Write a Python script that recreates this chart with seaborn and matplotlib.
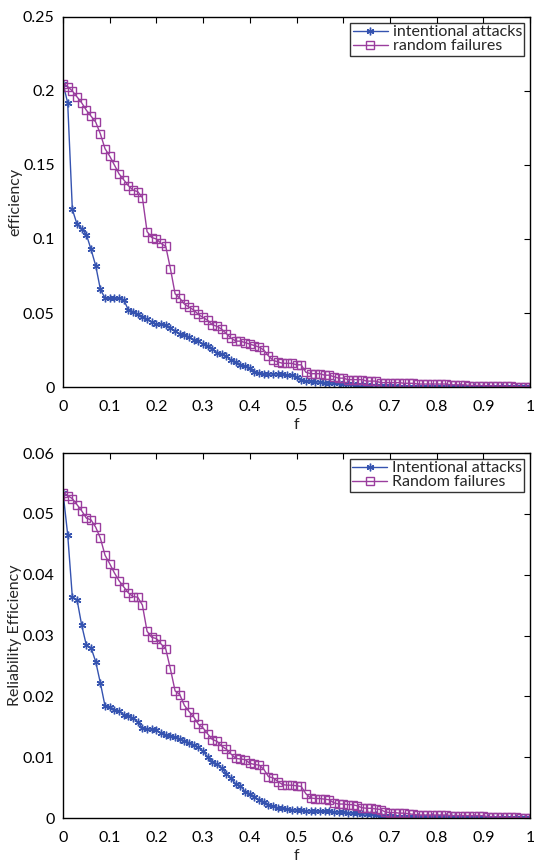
import numpy as np
import pandas as pd
import matplotlib
matplotlib.use("Agg")
import matplotlib.pyplot as plt
import seaborn as sns

# Fraction of removed nodes
f_values = [round(i * 0.01, 2) for i in range(101)]

# Global efficiency under node removal
eff_attack = [
    0.205, 0.192, 0.120, 0.110, 0.107, 0.103, 0.093, 0.082, 0.066, 0.060,
    0.060, 0.060, 0.060, 0.059, 0.052, 0.051, 0.049, 0.047, 0.046, 0.044,
    0.0425, 0.0425, 0.042, 0.040, 0.038, 0.036, 0.035, 0.034, 0.032, 0.031,
    0.029, 0.028, 0.026, 0.023, 0.022, 0.021, 0.018, 0.017, 0.015, 0.014,
    0.013, 0.010, 0.0095, 0.009, 0.009, 0.009, 0.009, 0.0085, 0.008, 0.008,
    0.0065, 0.0045, 0.004, 0.004, 0.0035, 0.0035, 0.003, 0.003, 0.0025, 0.0025,
    0.002, 0.002, 0.002, 0.0015, 0.0015, 0.0015, 0.001, 0.001, 0.001, 0.0008,
    0.0005, 0.0004, 0.0003, 0.0003, 0.0002, 0.0002, 0.0001, 0.0001, 0.0001, 0.0001,
    0.0001, 0.0001, 0.0001, 0.0001, 0.0001, 0.0001, 0.0, 0.0, 0.0, 0.0,
    0.0, 0.0, 0.0, 0.0, 0.0, 0.0, 0.0, 0.0, 0.0, 0.0,
    0.0,
]
eff_random = [
    0.205, 0.203, 0.200, 0.196, 0.192, 0.187, 0.183, 0.179, 0.171, 0.161,
    0.156, 0.150, 0.144, 0.140, 0.136, 0.133, 0.132, 0.128, 0.105, 0.101,
    0.100, 0.097, 0.095, 0.080, 0.063, 0.060, 0.056, 0.054, 0.052, 0.049,
    0.047, 0.045, 0.042, 0.041, 0.039, 0.036, 0.033, 0.031, 0.031, 0.030,
    0.029, 0.028, 0.027, 0.025, 0.021, 0.018, 0.017, 0.016, 0.016, 0.016,
    0.015, 0.015, 0.010, 0.009, 0.009, 0.009, 0.008, 0.008, 0.007, 0.006,
    0.006, 0.005, 0.005, 0.005, 0.005, 0.004, 0.004, 0.004, 0.003, 0.003,
    0.003, 0.003, 0.003, 0.0025, 0.0025, 0.0025, 0.002, 0.002, 0.002, 0.002,
    0.002, 0.002, 0.002, 0.0015, 0.0015, 0.0015, 0.0015, 0.001, 0.001, 0.001,
    0.001, 0.0008, 0.0008, 0.0006, 0.0006, 0.0005, 0.0004, 0.0003, 0.0002, 0.0001,
    0.0,
]

# Reliability efficiency under node removal
rel_attack = [
    0.0535, 0.0466, 0.0363, 0.0359, 0.0317, 0.0284, 0.0280, 0.0257, 0.0222, 0.0184,
    0.0182, 0.0178, 0.0176, 0.0170, 0.0168, 0.0164, 0.0158, 0.0148, 0.0147, 0.0146,
    0.0144, 0.0140, 0.0137, 0.0135, 0.0133, 0.0130, 0.0127, 0.0124, 0.0120, 0.0116,
    0.0110, 0.0100, 0.0092, 0.0088, 0.0082, 0.0073, 0.0065, 0.0056, 0.0053, 0.0043,
    0.0040, 0.0035, 0.0030, 0.0027, 0.0022, 0.0019, 0.0017, 0.0016, 0.0015, 0.0014,
    0.0013, 0.0013, 0.0012, 0.0012, 0.0012, 0.0011, 0.0011, 0.0011, 0.0010, 0.0010,
    0.0010, 0.0009, 0.0008, 0.0008, 0.0007, 0.0007, 0.0006, 0.0005, 0.0004, 0.0003,
    0.0003, 0.0002, 0.0002, 0.0001, 0.0001, 0.0001, 0.0001, 0.0001, 0.0001, 0.0001,
    0.0001, 0.0001, 0.0001, 0.0001, 0.0001, 0.0, 0.0, 0.0, 0.0, 0.0,
    0.0, 0.0, 0.0, 0.0, 0.0, 0.0, 0.0, 0.0, 0.0, 0.0,
    0.0,
]
rel_random = [
    0.0534, 0.0530, 0.0525, 0.0515, 0.0505, 0.0493, 0.0490, 0.0478, 0.0460, 0.0432,
    0.0418, 0.0403, 0.0390, 0.0380, 0.0370, 0.0364, 0.0363, 0.0350, 0.0307, 0.0297,
    0.0295, 0.0286, 0.0278, 0.0245, 0.0209, 0.0203, 0.0185, 0.0175, 0.0166, 0.0154,
    0.0148, 0.0138, 0.0129, 0.0126, 0.0118, 0.0113, 0.0105, 0.0098, 0.0097, 0.0096,
    0.0090, 0.0088, 0.0087, 0.0080, 0.0068, 0.0066, 0.0060, 0.0055, 0.0054, 0.0054,
    0.0053, 0.0052, 0.0040, 0.0033, 0.0032, 0.0032, 0.0031, 0.0030, 0.0025, 0.0023,
    0.0023, 0.0022, 0.0022, 0.0020, 0.0017, 0.0016, 0.0016, 0.0015, 0.0014, 0.0010,
    0.0009, 0.0009, 0.0008, 0.0008, 0.0007, 0.0006, 0.0005, 0.0005, 0.0005, 0.0005,
    0.0005, 0.0005, 0.0005, 0.0004, 0.0004, 0.0004, 0.0004, 0.0004, 0.0004, 0.0004,
    0.0004, 0.0002, 0.0002, 0.0002, 0.0001, 0.0001, 0.0001, 0.0001, 0.0, 0.0,
    0.0,
]

x_ticks = [0, 0.1, 0.2, 0.3, 0.4, 0.5, 0.6, 0.7, 0.8, 0.9, 1]
x_tick_labels = ["0", "0.1", "0.2", "0.3", "0.4", "0.5", "0.6", "0.7", "0.8", "0.9", "1"]
top_y_ticks = [0, 0.05, 0.1, 0.15, 0.2, 0.25]
top_y_labels = ["0", "0.05", "0.1", "0.15", "0.2", "0.25"]
bot_y_ticks = [0, 0.01, 0.02, 0.03, 0.04, 0.05, 0.06]
bot_y_labels = ["0", "0.01", "0.02", "0.03", "0.04", "0.05", "0.06"]

top_labels = ["intentional attacks", "random failures"]
bot_labels = ["Intentional attacks", "Random failures"]

BLUE = "#3553b0"
PURPLE = "#9a3d9e"
FS = 11.5
LEG_FS = 11.5

sns.set_style("white")
plt.rcParams["font.family"] = ["Lato", "DejaVu Sans"]
plt.rcParams["font.size"] = FS

fig = plt.figure(figsize=(5.34, 8.66), dpi=100)
ax_top = fig.add_axes([0.118, 0.5531, 0.8745, 0.4273])
ax_bot = fig.add_axes([0.118, 0.0554, 0.8745, 0.4215])


def draw(ax, attack, random_, labels, yticks, ylabels, ylabel):
    df_a = pd.DataFrame({"f": f_values, "v": attack})
    df_r = pd.DataFrame({"f": f_values, "v": random_})
    sns.lineplot(data=df_a, x="f", y="v", ax=ax, color=BLUE, lw=1.0,
                 marker=(6, 2, 0), markersize=5.5, markeredgewidth=1.0,
                 markeredgecolor=BLUE, label=labels[0])
    sns.lineplot(data=df_r, x="f", y="v", ax=ax, color=PURPLE, lw=1.0,
                 marker="s", markersize=6.0, markerfacecolor="none",
                 markeredgewidth=1.0, markeredgecolor=PURPLE, label=labels[1])
    ax.set_xlim(0, 1)
    ax.set_ylim(yticks[0], yticks[-1])
    ax.set_xticks(x_ticks)
    ax.set_xticklabels(x_tick_labels)
    ax.set_yticks(yticks)
    ax.set_yticklabels(ylabels)
    ax.tick_params(direction="in", length=4, width=0.8, top=True, right=True,
                   labelsize=FS, colors="black")
    ax.tick_params(axis="x", pad=9)
    ax.tick_params(axis="y", pad=6)
    for s in ax.spines.values():
        s.set_visible(True)
        s.set_color("black")
        s.set_linewidth(1.0)
    ax.set_xlabel("f", fontsize=FS, labelpad=3)
    ax.set_ylabel(ylabel, fontsize=FS)
    ax.yaxis.set_label_coords(-0.088, 0.5)
    leg = ax.legend(loc="upper right", fontsize=LEG_FS, frameon=True, fancybox=False,
                    edgecolor="black", borderpad=0.15, labelspacing=0.0,
                    handlelength=2.2, handletextpad=0.3, borderaxespad=0.35)
    leg.get_frame().set_linewidth(1.0)
    ax.grid(False)


draw(ax_top, eff_attack, eff_random, top_labels, top_y_ticks, top_y_labels, "efficiency")
draw(ax_bot, rel_attack, rel_random, bot_labels, bot_y_ticks, bot_y_labels,
     "Reliability Efficiency")

fig.savefig("out.png", dpi=100)
